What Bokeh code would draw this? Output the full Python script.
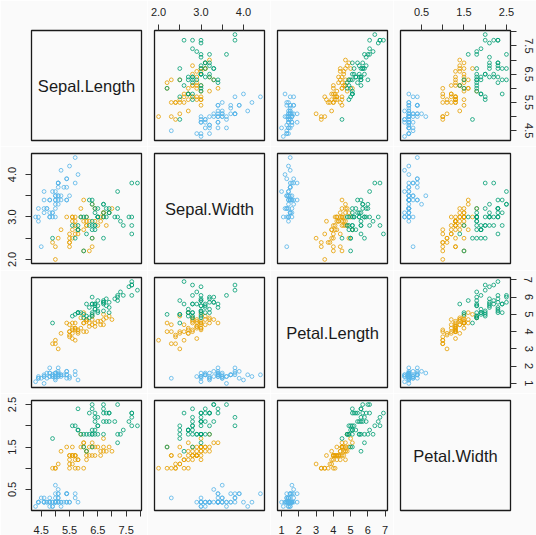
from bokeh.plotting import figure
from bokeh.layouts import gridplot
from bokeh.models import Range1d, FixedTicker, Label, ColumnDataSource
from bokeh.embed import file_html
from bokeh.resources import INLINE

var_names = ["Sepal.Length", "Sepal.Width", "Petal.Length", "Petal.Width"]

sepal_length = [
    5.1, 4.9, 4.7, 4.6, 5.0, 5.4, 4.6, 5.0, 4.4, 4.9, 5.4, 4.8, 4.8, 4.3, 5.8, 5.7, 5.4, 5.1, 5.7, 5.1,
    5.4, 5.1, 4.6, 5.1, 4.8, 5.0, 5.0, 5.2, 5.2, 4.7, 4.8, 5.4, 5.2, 5.5, 4.9, 5.0, 5.5, 4.9, 4.4, 5.1,
    5.0, 4.5, 4.4, 5.0, 5.1, 4.8, 5.1, 4.6, 5.3, 5.0,
    7.0, 6.4, 6.9, 5.5, 6.5, 5.7, 6.3, 4.9, 6.6, 5.2, 5.0, 5.9, 6.0, 6.1, 5.6, 6.7, 5.6, 5.8, 6.2, 5.6,
    5.9, 6.1, 6.3, 6.1, 6.4, 6.6, 6.8, 6.7, 6.0, 5.7, 5.5, 5.5, 5.8, 6.0, 5.4, 6.0, 6.7, 6.3, 5.6, 5.5,
    5.5, 6.1, 5.8, 5.0, 5.6, 5.7, 5.7, 6.2, 5.1, 5.7,
    6.3, 5.8, 7.1, 6.3, 6.5, 7.6, 4.9, 7.3, 6.7, 7.2, 6.5, 6.4, 6.8, 5.7, 5.8, 6.4, 6.5, 7.7, 7.7, 6.0,
    6.9, 5.6, 7.7, 6.3, 6.7, 7.2, 6.2, 6.1, 6.4, 7.2, 7.4, 7.9, 6.4, 6.3, 6.1, 7.7, 6.3, 6.4, 6.0, 6.9,
    6.7, 6.9, 5.8, 6.8, 6.7, 6.7, 6.3, 6.5, 6.2, 5.9,
]
sepal_width = [
    3.5, 3.0, 3.2, 3.1, 3.6, 3.9, 3.4, 3.4, 2.9, 3.1, 3.7, 3.4, 3.0, 3.0, 4.0, 4.4, 3.9, 3.5, 3.8, 3.8,
    3.4, 3.7, 3.6, 3.3, 3.4, 3.0, 3.4, 3.5, 3.4, 3.2, 3.1, 3.4, 4.1, 4.2, 3.1, 3.2, 3.5, 3.6, 3.0, 3.4,
    3.5, 2.3, 3.2, 3.5, 3.8, 3.0, 3.8, 3.2, 3.7, 3.3,
    3.2, 3.2, 3.1, 2.3, 2.8, 2.8, 3.3, 2.4, 2.9, 2.7, 2.0, 3.0, 2.2, 2.9, 2.9, 3.1, 3.0, 2.7, 2.2, 2.5,
    3.2, 2.8, 2.5, 2.8, 2.9, 3.0, 2.8, 3.0, 2.9, 2.6, 2.4, 2.4, 2.7, 2.7, 3.0, 3.4, 3.1, 2.3, 3.0, 2.5,
    2.6, 3.0, 2.6, 2.3, 2.7, 3.0, 2.9, 2.9, 2.5, 2.8,
    3.3, 2.7, 3.0, 2.9, 3.0, 3.0, 2.5, 2.9, 2.5, 3.6, 3.2, 2.7, 3.0, 2.5, 2.8, 3.2, 3.0, 3.8, 2.6, 2.2,
    3.2, 2.8, 2.8, 2.7, 3.3, 3.2, 2.8, 3.0, 2.8, 3.0, 2.8, 3.8, 2.8, 2.8, 2.6, 3.0, 3.4, 3.1, 3.0, 3.1,
    3.1, 3.1, 2.7, 3.2, 3.3, 3.0, 2.5, 3.0, 3.4, 3.0,
]
petal_length = [
    1.4, 1.4, 1.3, 1.5, 1.4, 1.7, 1.4, 1.5, 1.4, 1.5, 1.5, 1.6, 1.4, 1.1, 1.2, 1.5, 1.3, 1.4, 1.7, 1.5,
    1.7, 1.5, 1.0, 1.7, 1.9, 1.6, 1.6, 1.5, 1.4, 1.6, 1.6, 1.5, 1.5, 1.4, 1.5, 1.2, 1.3, 1.4, 1.3, 1.5,
    1.3, 1.3, 1.3, 1.6, 1.9, 1.4, 1.6, 1.4, 1.5, 1.4,
    4.7, 4.5, 4.9, 4.0, 4.6, 4.5, 4.7, 3.3, 4.6, 3.9, 3.5, 4.2, 4.0, 4.7, 3.6, 4.4, 4.5, 4.1, 4.5, 3.9,
    4.8, 4.0, 4.9, 4.7, 4.3, 4.4, 4.8, 5.0, 4.5, 3.5, 3.8, 3.7, 3.9, 5.1, 4.5, 4.5, 4.7, 4.4, 4.1, 4.0,
    4.4, 4.6, 4.0, 3.3, 4.2, 4.2, 4.2, 4.3, 3.0, 4.1,
    6.0, 5.1, 5.9, 5.6, 5.8, 6.6, 4.5, 6.3, 5.8, 6.1, 5.1, 5.3, 5.5, 5.0, 5.1, 5.3, 5.5, 6.7, 6.9, 5.0,
    5.7, 4.9, 6.7, 4.9, 5.7, 6.0, 4.8, 4.9, 5.6, 5.8, 6.1, 6.4, 5.6, 5.1, 5.6, 6.1, 5.6, 5.5, 4.8, 5.4,
    5.6, 5.1, 5.1, 5.9, 5.7, 5.2, 5.0, 5.2, 5.4, 5.1,
]
petal_width = [
    0.2, 0.2, 0.2, 0.2, 0.2, 0.4, 0.3, 0.2, 0.2, 0.1, 0.2, 0.2, 0.1, 0.1, 0.2, 0.4, 0.4, 0.3, 0.3, 0.3,
    0.2, 0.4, 0.2, 0.5, 0.2, 0.2, 0.4, 0.2, 0.2, 0.2, 0.2, 0.4, 0.1, 0.2, 0.2, 0.2, 0.2, 0.1, 0.2, 0.2,
    0.3, 0.3, 0.2, 0.6, 0.4, 0.3, 0.2, 0.2, 0.2, 0.2,
    1.4, 1.5, 1.5, 1.3, 1.5, 1.3, 1.6, 1.0, 1.3, 1.4, 1.0, 1.5, 1.0, 1.4, 1.3, 1.4, 1.5, 1.0, 1.5, 1.1,
    1.8, 1.3, 1.5, 1.2, 1.3, 1.4, 1.4, 1.7, 1.5, 1.0, 1.1, 1.0, 1.2, 1.6, 1.5, 1.6, 1.5, 1.3, 1.3, 1.3,
    1.2, 1.4, 1.2, 1.0, 1.3, 1.2, 1.3, 1.3, 1.1, 1.3,
    2.5, 1.9, 2.1, 1.8, 2.2, 2.1, 1.7, 1.8, 1.8, 2.5, 2.0, 1.9, 2.1, 2.0, 2.4, 2.3, 1.8, 2.2, 2.3, 1.5,
    2.3, 2.0, 2.0, 1.8, 2.1, 1.8, 1.8, 1.8, 2.1, 1.6, 1.9, 2.0, 2.2, 1.5, 1.4, 2.3, 2.4, 1.8, 1.8, 2.1,
    2.4, 2.3, 1.9, 2.3, 2.5, 2.3, 1.9, 2.0, 2.3, 1.8,
]

species_names = ["setosa", "versicolor", "virginica"]
species_counts = [50, 50, 50]
species_colors = ["#56B4E9", "#E69F00", "#009E73"]

tick_values = {
    "Sepal.Length": [4.5, 5.0, 5.5, 6.0, 6.5, 7.0, 7.5, 8.0],
    "Sepal.Width": [2.0, 2.5, 3.0, 3.5, 4.0],
    "Petal.Length": [1, 2, 3, 4, 5, 6, 7],
    "Petal.Width": [0.5, 1.0, 1.5, 2.0, 2.5],
}
tick_labels = {
    "Sepal.Length": ["4.5", "", "5.5", "", "6.5", "", "7.5", ""],
    "Sepal.Width": ["2.0", "", "3.0", "", "4.0"],
    "Petal.Length": ["1", "2", "3", "4", "5", "6", "7"],
    "Petal.Width": ["0.5", "", "1.5", "", "2.5"],
}

data = {
    "Sepal.Length": sepal_length,
    "Sepal.Width": sepal_width,
    "Petal.Length": petal_length,
    "Petal.Width": petal_width,
}

colors = []
for name_color, count in zip(species_colors, species_counts):
    colors += [name_color] * count

BG = "#fafafa"
FONT = "Liberation Sans"
STANDOFF = {"above": 9, "below": 9, "left": 9, "right": 8}


def padded_range(vals):
    lo, hi = min(vals), max(vals)
    d = (hi - lo) * 0.04
    return lo - d, hi + d


def style_axis(ax, var, side):
    ax.ticker = FixedTicker(ticks=tick_values[var], minor_ticks=[])
    ax.major_label_overrides = {float(t): lab for t, lab in zip(tick_values[var], tick_labels[var])}
    ax.major_tick_out = 6
    ax.major_tick_in = 0
    ax.minor_tick_out = 0
    ax.minor_tick_in = 0
    ax.axis_line_color = None
    ax.major_tick_line_color = "#333333"
    ax.major_tick_line_width = 1
    ax.major_label_text_font = FONT
    ax.major_label_text_font_size = "11px"
    ax.major_label_text_color = "#222222"
    ax.major_label_standoff = STANDOFF[side]
    if side in ("left", "right"):
        ax.major_label_orientation = "vertical"


rows = []
n = len(var_names)
for i in range(n):
    row = []
    for j in range(n):
        xv, yv = var_names[j], var_names[i]
        x_loc = None
        if i == 0 and j % 2 == 1:
            x_loc = "above"
        if i == n - 1 and j % 2 == 0:
            x_loc = "below"
        y_loc = None
        if j == 0 and i % 2 == 1:
            y_loc = "left"
        if j == n - 1 and i % 2 == 0:
            y_loc = "right"
        x0, x1 = padded_range(data[xv])
        y0, y1 = padded_range(data[yv])
        p = figure(
            frame_width=110, frame_height=110,
            x_range=Range1d(x0, x1), y_range=Range1d(y0, y1),
            x_axis_location=x_loc, y_axis_location=y_loc,
            toolbar_location=None, output_backend="svg",
            min_border_left=31 if j == 0 else 7,
            min_border_right=26 if j == n - 1 else 6,
            min_border_top=30 if i == 0 else 7,
            min_border_bottom=25 if i == n - 1 else (7 if i == 1 else 6),
            background_fill_color=BG, border_fill_color=BG,
            outline_line_color="#1a1a1a", outline_line_width=1.3,
        )
        p.grid.visible = False
        for ax in p.xaxis:
            style_axis(ax, xv, x_loc)
        for ax in p.yaxis:
            style_axis(ax, yv, y_loc)
        if i == j:
            p.add_layout(Label(x=(x0 + x1) / 2, y=(y0 + y1) / 2, text=xv,
                               text_align="center", text_baseline="middle",
                               text_font=FONT, text_font_size="16.5px",
                               text_color="#1a1a1a"))
        else:
            src = ColumnDataSource(dict(x=data[xv], y=data[yv], c=colors))
            p.scatter("x", "y", source=src, marker="circle", size=3.8,
                      fill_color=None, line_color="c", line_alpha=0.8, line_width=1.0)
        row.append(p)
    rows.append(row)

grid = gridplot(rows, toolbar_location=None)

open("out.html", "w").write(file_html(grid, INLINE))
